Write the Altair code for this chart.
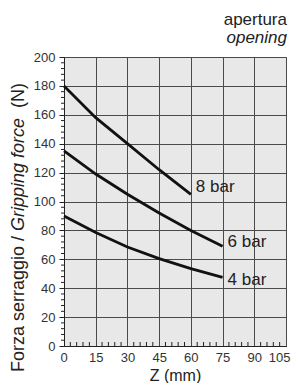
import altair as alt
import pandas as pd

# ---- data ----
z_vals = [0, 15, 30, 45, 60, 75]
bar8 = [180, 158, 140, 122, 105]
bar6 = [135, 119, 105, 92, 80, 69]
bar4 = [90, 78.5, 68.5, 60.5, 53.5, 47.5]
series_names = ["8 bar", "6 bar", "4 bar"]
x_ticks = [0, 15, 30, 45, 60, 75, 90, 105]
y_ticks = [0, 20, 40, 60, 80, 100, 120, 140, 160, 180, 200]
x_minor = [v for v in range(0, 106, 3) if v % 15 != 0]
y_minor = [v for v in range(0, 201, 4) if v % 20 != 0]

W, H = 222, 289
FONT = "Liberation Sans"

rows = []
for name, vals in zip(series_names, [bar8, bar6, bar4]):
    for z, f in zip(z_vals, vals):
        rows.append({"series": name, "z": z, "f": f})
df = pd.DataFrame(rows)

x_enc = alt.X("z:Q", scale=alt.Scale(domain=[0, 105], nice=False, zero=False),
              axis=alt.Axis(values=x_ticks, title="Z (mm)", grid=True,
                            gridColor="#4a4a4a", gridWidth=1, domainColor="#222222",
                            tickColor="#222222", tickSize=0, labelFont=FONT,
                            labelFontSize=13, labelColor="#333333", labelPadding=5,
                            labelFlush=True, labelFlushOffset=4, labelOverlap=False,
                            titleFont=FONT, titleFontSize=16, titleFontWeight="normal",
                            titleColor="#222222", titlePadding=3))
y_enc = alt.Y("f:Q", scale=alt.Scale(domain=[0, 200], nice=False),
              axis=alt.Axis(values=y_ticks, title=None, grid=True,
                            gridColor="#4a4a4a", gridWidth=1, domainColor="#222222",
                            tickColor="#222222", tickSize=5, labelFont=FONT,
                            labelFontSize=13, labelColor="#333333", labelPadding=4,
                            labelFlush=False, labelOverlap=False))

lines = alt.Chart(df).mark_line(color="#111111", strokeWidth=2.8).encode(
    x=x_enc, y=y_enc, detail="series:N")

layers = [lines]

# series labels at the end of each curve
offsets = {"8 bar": -7, "6 bar": -4, "4 bar": 3}
for name, vals in zip(series_names, [bar8, bar6, bar4]):
    ldf = pd.DataFrame({"z": [z_vals[len(vals) - 1]], "f": [vals[-1]], "t": [name]})
    layers.append(alt.Chart(ldf).mark_text(
        align="left", baseline="middle", dx=5, dy=offsets[name], font=FONT,
        fontSize=17, color="#222222").encode(x=x_enc, y=y_enc, text="t:N"))

# minor ticks
xm = pd.DataFrame({"z": x_minor})
layers.append(alt.Chart(xm).mark_rule(color="#222222", strokeWidth=1).encode(
    x=x_enc, y=alt.value(H), y2=alt.value(H - 4)))
ym = pd.DataFrame({"f": y_minor})
layers.append(alt.Chart(ym).mark_rule(color="#222222", strokeWidth=1).encode(
    y=y_enc, x=alt.value(0), x2=alt.value(-3)))

# top-right label
one = pd.DataFrame({"a": [0]})
layers.append(alt.Chart(one).mark_text(
    align="right", baseline="alphabetic", font=FONT, fontSize=17,
    color="#222222").encode(x=alt.value(W + 1), y=alt.value(-32),
                            text=alt.value("apertura")))
layers.append(alt.Chart(one).mark_text(
    align="right", baseline="alphabetic", font=FONT, fontSize=17, fontStyle="italic",
    color="#222222").encode(x=alt.value(W + 1), y=alt.value(-14),
                            text=alt.value("opening")))

# y-axis title in three styled pieces (rotated)
S = 18
seg1 = "Forza serraggio / "
seg2 = "Gripping force  "
seg3 = "(N)"
start1 = 315
start2 = start1 - 7.836 * S
start3 = start2 - 6.836 * S
for txt, st, style in [(seg1, start1, "normal"), (seg2, start2, "italic"),
                       (seg3, start3, "normal")]:
    layers.append(alt.Chart(one).mark_text(
        align="left", baseline="middle", angle=270, font=FONT, fontSize=S,
        fontStyle=style, color="#222222").encode(
        x=alt.value(-45), y=alt.value(st), text=alt.value(txt)))

chart = alt.layer(*layers).properties(
    width=W, height=H,
    autosize=alt.AutoSizeParams(type="none"),
    padding={"left": 56, "top": 49, "right": 7, "bottom": 37},
).configure_view(fill="#e8e8e8", stroke="#4a4a4a")

chart.save("out.html", embed_options={"renderer": "svg", "actions": False})
